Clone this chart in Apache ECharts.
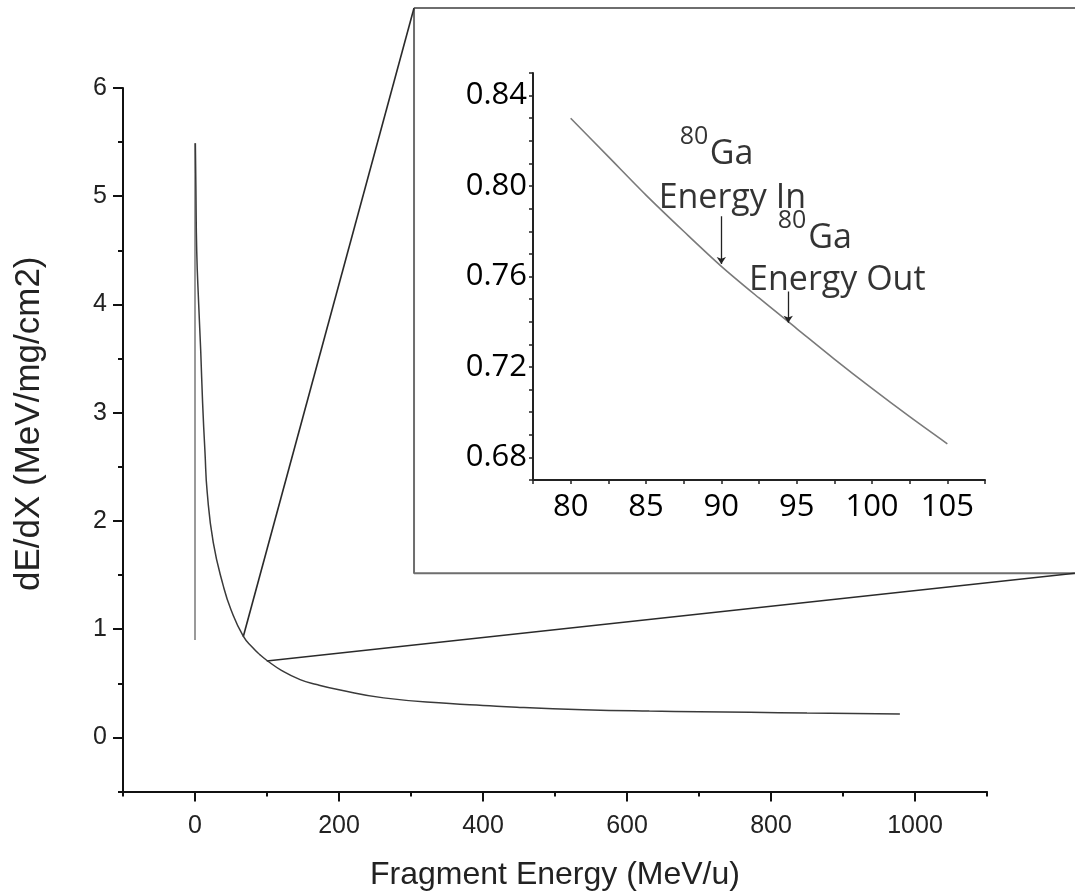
<!DOCTYPE html>
<html>
<head>
<meta charset="utf-8">
<script src="https://cdn.jsdelivr.net/npm/echarts@6/dist/echarts.min.js"></script>
<style>html,body{margin:0;padding:0;background:#fff}#c{width:1075px;height:894px}</style>
</head>
<body>
<div id="c"></div>
<script>
// ---- main curve (Fragment Energy MeV/u vs dE/dX) ----
const mainX = [0.5, 1.2, 2.4, 5, 8, 10.5, 13.9, 17, 25.4, 39.3, 50, 67, 80, 90, 100, 120, 146, 169, 200, 262, 354, 400, 447, 539, 631, 700, 771, 850, 979];
const mainY = [5.49, 5.10, 4.49, 4.02, 3.56, 3.10, 2.63, 2.26, 1.80, 1.40, 1.18, 0.935, 0.83, 0.7645, 0.7105, 0.62, 0.534, 0.488, 0.44, 0.365, 0.312, 0.295, 0.278, 0.256, 0.243, 0.238, 0.232, 0.225, 0.217];
// low-energy vertical rise
const riseX = [0, 0];
const riseY = [0.9, 5.49];
// ---- inset curve ----
const insetX = [80, 82.5, 85, 87.5, 90, 92.5, 95, 97.5, 100, 102.5, 105];
const insetY = [0.830, 0.813, 0.796, 0.780, 0.7645, 0.7505, 0.737, 0.7235, 0.7105, 0.698, 0.686];
// ---- tick labels ----
const mainXTicks = [0, 200, 400, 600, 800, 1000];
const mainYTicks = [0, 1, 2, 3, 4, 5, 6];
const insetXTicks = [80, 85, 90, 95, 100, 105];
const insetYTicks = [0.68, 0.72, 0.76, 0.80, 0.84];
// ---- annotation arrows (inset coords): [x, yTop, yBottom] ----
const arrowIn = [90, 0.7867, 0.7655];
const arrowOut = [94.44, 0.7534, 0.7395];
// ---- annotation texts (inset coords) ----
const annoSup = [[88.19, 0.8219, '80'], [94.69, 0.7846, '80']];
const annoMain = [[90.68, 0.8140, 'Ga'], [97.22, 0.7768, 'Ga'], [90.73, 0.7947, 'Energy In'], [97.7, 0.7584, 'Energy Out']];
// ---- zoom box and connectors (main coords, drawn on an overlay grid) ----
const boxX = [304.2, 1224, 1224, 304.2, 304.2];
const boxY = [6.739, 6.739, 1.516, 1.516, 6.739];
const conn1X = [67, 304.2], conn1Y = [0.93, 6.739];
const conn2X = [99.6, 1222], conn2Y = [0.706, 1.516];

const zip = (a, b) => a.map((v, i) => [v, b[i]]);
const mainFont = 'Liberation Sans';
const insetFont = 'Open Sans';
const axisCol = '#111';

// main grid geometry (px) used to derive the overlay grid's matching scale
const G = {left: 123, right: 88, top: 88, bottom: 102.5};
const W = 1075, H = 894;
const xPerPx = 1200 / (W - G.left - G.right);
const yPerPx = 6.5 / (H - G.top - G.bottom);
const ovXMax = 1100 + G.right * xPerPx;
const ovYMax = 6 + G.top * yPerPx;

const chart = echarts.init(document.getElementById('c'), null, {renderer: 'canvas'});
chart.setOption({
  animation: false,
  backgroundColor: '#fff',
  grid: [
    {left: G.left, right: G.right, top: G.top, bottom: G.bottom, outerBoundsMode: 'none'},
    {left: 533, right: 90, top: 73, bottom: 414, outerBoundsMode: 'none'},
    {left: G.left, right: 0, top: 0, bottom: G.bottom, outerBoundsMode: 'none'}
  ],
  xAxis: [
    {gridIndex: 0, type: 'value', min: -100, max: 1100, interval: 100,
     axisLine: {onZero: false, lineStyle: {color: axisCol, width: 2}},
     axisTick: {length: 5, lineStyle: {color: axisCol, width: 2}},
     axisLabel: {customValues: mainXTicks, formatter: v => String(v), fontSize: 25, color: '#222', margin: 22, fontFamily: mainFont},
     splitLine: {show: false},
     name: 'Fragment Energy (MeV/u)', nameLocation: 'middle', nameGap: 68,
     nameTextStyle: {fontSize: 32, color: '#222', fontFamily: mainFont}},
    {gridIndex: 0, type: 'value', min: -100, max: 1100, position: 'bottom',
     axisLine: {show: false, onZero: false},
     axisTick: {customValues: mainXTicks, length: 10, lineStyle: {color: axisCol, width: 2}},
     axisLabel: {show: false}, splitLine: {show: false}},
    {gridIndex: 1, type: 'value', min: 77.5, max: 107.5, interval: 2.5,
     axisLine: {onZero: false, lineStyle: {color: '#222', width: 2}},
     axisTick: {length: 4, lineStyle: {color: '#222', width: 1.5}},
     axisLabel: {customValues: insetXTicks, fontSize: 31, color: '#000', margin: 12, fontFamily: insetFont},
     splitLine: {show: false}},
    {gridIndex: 2, type: 'value', min: -100, max: ovXMax, show: false}
  ],
  yAxis: [
    {gridIndex: 0, type: 'value', min: -0.5, max: 6, interval: 0.5,
     axisLine: {onZero: false, lineStyle: {color: axisCol, width: 2}},
     axisTick: {length: 5, lineStyle: {color: axisCol, width: 2}},
     axisLabel: {customValues: mainYTicks, fontSize: 25, color: '#222', margin: 16, fontFamily: mainFont},
     splitLine: {show: false},
     name: 'dE/dX (MeV/mg/cm2)', nameLocation: 'middle', nameGap: 76, nameRotate: 90,
     nameTextStyle: {fontSize: 35, color: '#222', fontFamily: mainFont, padding: [0, 0, 0, 32]}},
    {gridIndex: 0, type: 'value', min: -0.5, max: 6, position: 'left',
     axisLine: {show: false, onZero: false},
     axisTick: {customValues: mainYTicks, length: 10, lineStyle: {color: axisCol, width: 2}},
     axisLabel: {show: false}, splitLine: {show: false}},
    {gridIndex: 1, type: 'value', min: 0.67, max: 0.85, interval: 0.01,
     axisLine: {onZero: false, lineStyle: {color: '#222', width: 2}},
     axisTick: {length: 4, lineStyle: {color: '#222', width: 1.5}},
     axisLabel: {customValues: insetYTicks, formatter: v => v.toFixed(2), fontSize: 31, color: '#000', margin: 6, fontFamily: insetFont},
     splitLine: {show: false}},
    {gridIndex: 2, type: 'value', min: -0.5, max: ovYMax, show: false}
  ],
  series: [
    {type: 'line', xAxisIndex: 3, yAxisIndex: 3, data: zip(boxX, boxY), clip: false, symbol: 'none',
     lineStyle: {color: '#6e6e6e', width: 2}, z: 1},
    {type: 'line', xAxisIndex: 3, yAxisIndex: 3, data: zip(conn1X, conn1Y), clip: false, symbol: 'none',
     lineStyle: {color: '#2a2a2a', width: 1.6}, z: 2},
    {type: 'line', xAxisIndex: 3, yAxisIndex: 3, data: zip(conn2X, conn2Y), clip: false, symbol: 'none',
     lineStyle: {color: '#2a2a2a', width: 1.6}, z: 2},
    {type: 'line', xAxisIndex: 0, yAxisIndex: 0, data: zip(riseX, riseY), symbol: 'none',
     lineStyle: {color: '#9a9a9a', width: 2}, z: 3},
    {type: 'line', xAxisIndex: 0, yAxisIndex: 0, data: zip(mainX, mainY), symbol: 'none', smooth: 0.5,
     lineStyle: {color: '#3a3a3a', width: 1.5}, z: 4},
    {type: 'line', xAxisIndex: 2, yAxisIndex: 2, data: zip(insetX, insetY), symbol: 'none', smooth: 0.3,
     lineStyle: {color: '#7a7a7a', width: 1.6}, z: 4},
    {type: 'lines', coordinateSystem: 'cartesian2d', xAxisIndex: 2, yAxisIndex: 2,
     symbol: ['none', 'arrow'], symbolSize: 7,
     lineStyle: {color: '#222', width: 1.3, opacity: 1},
     data: [
       {coords: [[arrowIn[0], arrowIn[1]], [arrowIn[0], arrowIn[2]]]},
       {coords: [[arrowOut[0], arrowOut[1]], [arrowOut[0], arrowOut[2]]]}
     ], z: 5},
    {type: 'scatter', xAxisIndex: 2, yAxisIndex: 2, symbolSize: 0, silent: true,
     data: annoSup.map(a => ({value: [a[0], a[1]], name: a[2]})),
     label: {show: true, position: 'inside', formatter: p => p.name, fontSize: 25, color: '#000', fontFamily: insetFont},
     z: 6},
    {type: 'scatter', xAxisIndex: 2, yAxisIndex: 2, symbolSize: 0, silent: true,
     data: annoMain.map(a => ({value: [a[0], a[1]], name: a[2]})),
     label: {show: true, position: 'inside', formatter: p => p.name, fontSize: 34, color: '#000', fontFamily: insetFont},
     z: 6}
  ]
});
</script>
</body>
</html>
